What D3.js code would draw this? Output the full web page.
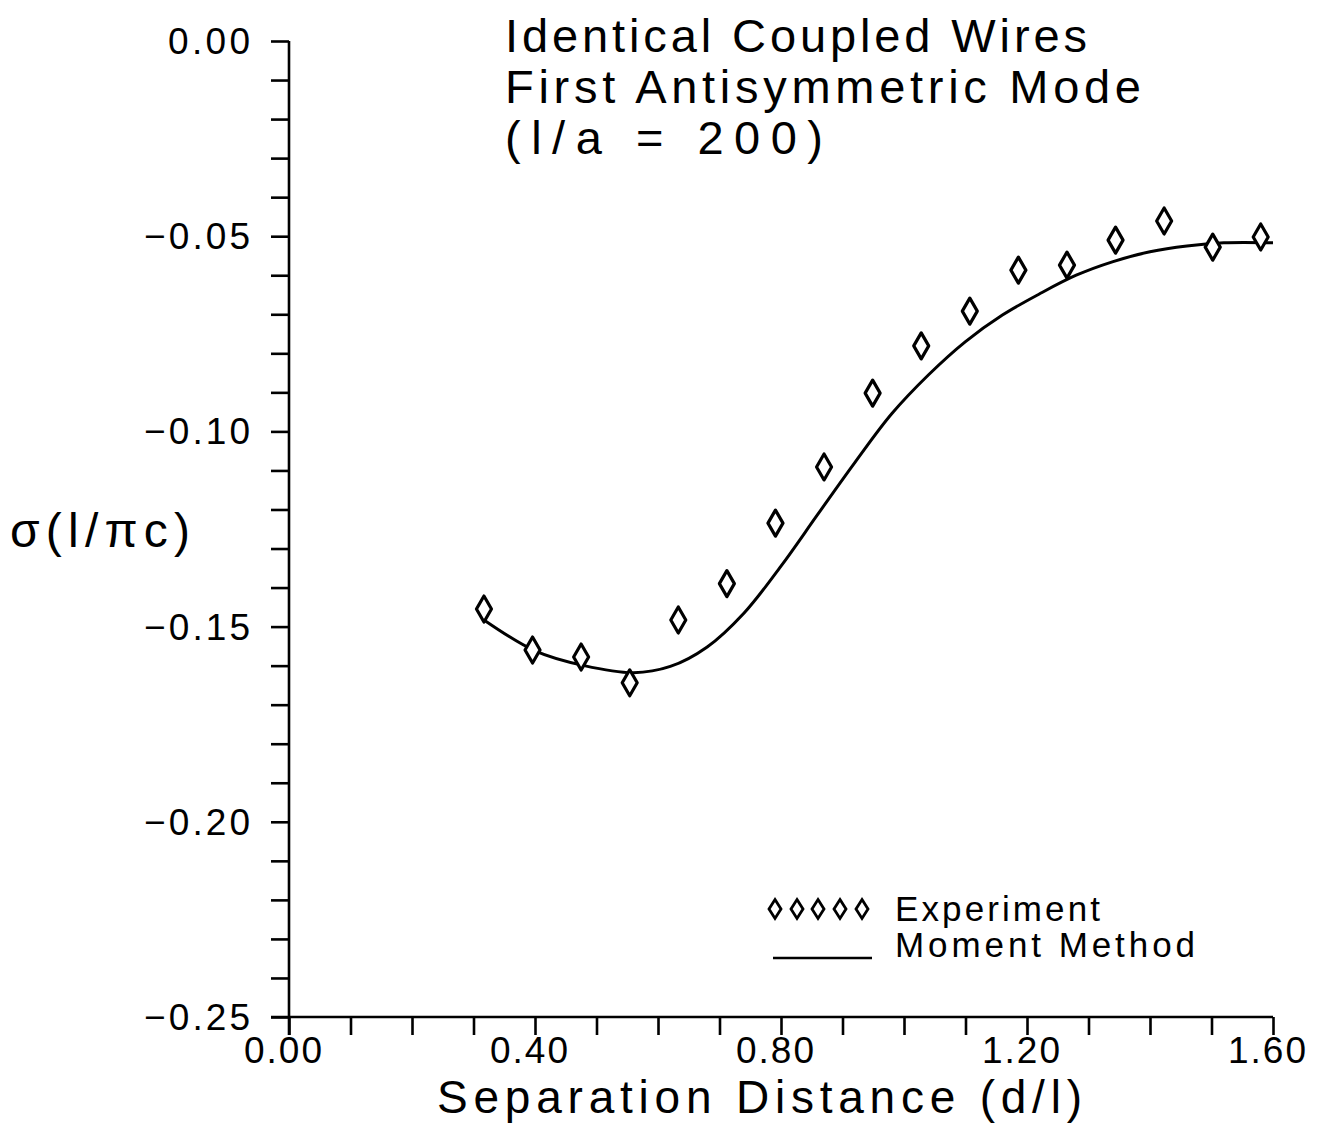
<!DOCTYPE html>
<html>
<head>
<meta charset="utf-8">
<script src="https://cdn.jsdelivr.net/npm/d3@7"></script>
<style>
  html, body { margin: 0; padding: 0; background: #fff; }
  svg { display: block; }
  text { font-family: "Liberation Sans", Arial, sans-serif; fill: #000; }
</style>
</head>
<body>
<svg id="chart" width="1323" height="1130"></svg>
<script>
// ---------- data ----------
const titleLines = ["Identical Coupled Wires", "First Antisymmetric Mode", "(l/a = 200)"];
const xTickLabels = ["0.00", "0.40", "0.80", "1.20", "1.60"];
const yTickLabels = ["0.00", "\u22120.05", "\u22120.10", "\u22120.15", "\u22120.20", "\u22120.25"];
const xMajor = [0, 0.4, 0.8, 1.2, 1.6];
const yMajor = [0, -0.05, -0.10, -0.15, -0.20, -0.25];

// Experiment (diamonds)
const expX = [0.317, 0.396, 0.475, 0.554, 0.633, 0.712, 0.791, 0.870, 0.949,
              1.028, 1.107, 1.186, 1.265, 1.344, 1.423, 1.502, 1.580];
const expY = [-0.1455, -0.1560, -0.1578, -0.1644, -0.1483, -0.1390, -0.1235, -0.1091, -0.0902,
              -0.0781, -0.0692, -0.0587, -0.0574, -0.0510, -0.0461, -0.0528, -0.0502];

// Moment Method (solid curve)
const mmX = [0.317, 0.40, 0.48, 0.56, 0.62, 0.68, 0.74, 0.80, 0.86, 0.92, 0.98,
             1.04, 1.10, 1.16, 1.22, 1.28, 1.34, 1.40, 1.46, 1.52, 1.60];
const mmY = [-0.1483, -0.1562, -0.1600, -0.1618, -0.1602, -0.1552, -0.1465, -0.1345, -0.1212, -0.1080, -0.0955,
             -0.0855, -0.0770, -0.0702, -0.0648, -0.0600, -0.0565, -0.0540, -0.0525, -0.0517, -0.0517];

const legendLabels = ["Experiment", "Moment Method"];
const xTitle = "Separation Distance (d/l)";
const yTitle = "\u03c3(l/\u03c0c)";

// ---------- layout ----------
const svg = d3.select("#chart");
const x = d3.scaleLinear().domain([0, 1.6]).range([289, 1273]);
const y = d3.scaleLinear().domain([-0.25, 0]).range([1017, 41]);
const tickLen = 18;

// Y axis
const yAxis = d3.axisLeft(y)
  .tickValues(d3.range(0, 26).map(i => -i * 0.01))
  .tickSize(tickLen).tickFormat("");
const gy = svg.append("g").attr("transform", `translate(${x(0)},0)`).call(yAxis);
gy.select(".domain").attr("d", `M0,${y(0)}V${y(-0.25) + tickLen}`);

// X axis
const xAxis = d3.axisBottom(x)
  .tickValues(d3.range(0, 17).map(i => i * 0.1))
  .tickSize(tickLen).tickFormat("");
const gx = svg.append("g").attr("transform", `translate(0,${y(-0.25)})`).call(xAxis);
gx.select(".domain").attr("d", `M${x(0) - tickLen},0H${x(1.6)}`);

svg.selectAll(".domain, .tick line")
  .attr("stroke", "#000").attr("stroke-width", 2.6).attr("fill", "none");

// Y tick labels
svg.append("g").selectAll("text").data(yMajor).join("text")
  .attr("x", 250).attr("y", d => y(d) + 13)
  .attr("text-anchor", "end")
  .attr("font-size", 37)
  .attr("textLength", (d, i) => i === 0 ? 82 : 106)
  .attr("lengthAdjust", "spacing")
  .text((d, i) => yTickLabels[i]);

// X tick labels
svg.append("g").selectAll("text").data(xMajor).join("text")
  .attr("x", d => x(d) - 6).attr("y", 1063)
  .attr("text-anchor", "middle")
  .attr("font-size", 37)
  .attr("textLength", 78)
  .attr("lengthAdjust", "spacing")
  .text((d, i) => xTickLabels[i]);

// Axis titles
svg.append("text").attr("x", 437).attr("y", 1113)
  .attr("font-size", 46).attr("textLength", 645).attr("lengthAdjust", "spacing")
  .text(xTitle);
svg.append("text").attr("x", 10).attr("y", 547)
  .attr("font-size", 48).attr("textLength", 180).attr("lengthAdjust", "spacing")
  .text(yTitle);

// Title
const titleLens = [582, 636, 318];
svg.append("g").selectAll("text").data(titleLines).join("text")
  .attr("x", 505).attr("y", (d, i) => 52 + i * 51)
  .attr("font-size", 47)
  .attr("textLength", (d, i) => titleLens[i])
  .attr("lengthAdjust", "spacing")
  .text(d => d);

// Moment method curve
const line = d3.line().x(d => x(d[0])).y(d => y(d[1])).curve(d3.curveCatmullRom.alpha(0.5));
svg.append("path")
  .datum(mmX.map((v, i) => [v, mmY[i]]))
  .attr("d", line)
  .attr("fill", "none").attr("stroke", "#000").attr("stroke-width", 3);

// Diamonds
function diamond(cx, cy, w, h) {
  return `M${cx},${cy - h / 2}L${cx + w / 2},${cy}L${cx},${cy + h / 2}L${cx - w / 2},${cy}Z`;
}
svg.append("g").selectAll("path").data(expX.map((v, i) => [v, expY[i]])).join("path")
  .attr("d", d => diamond(x(d[0]), y(d[1]), 15, 26))
  .attr("fill", "#fff").attr("stroke", "#000").attr("stroke-width", 3.2)
  .attr("stroke-linejoin", "round");

// Legend
const lg = svg.append("g");
[775, 797, 818, 840, 862].forEach(cx => {
  lg.append("path").attr("d", diamond(cx, 909, 12, 19))
    .attr("fill", "#fff").attr("stroke", "#000").attr("stroke-width", 2.8);
});
lg.append("line").attr("x1", 773).attr("x2", 872).attr("y1", 958).attr("y2", 958)
  .attr("stroke", "#000").attr("stroke-width", 2.6);
lg.append("text").attr("x", 895).attr("y", 921).attr("font-size", 35)
  .attr("textLength", 205).attr("lengthAdjust", "spacing").text(legendLabels[0]);
lg.append("text").attr("x", 895).attr("y", 957).attr("font-size", 35)
  .attr("textLength", 300).attr("lengthAdjust", "spacing").text(legendLabels[1]);
</script>
</body>
</html>
